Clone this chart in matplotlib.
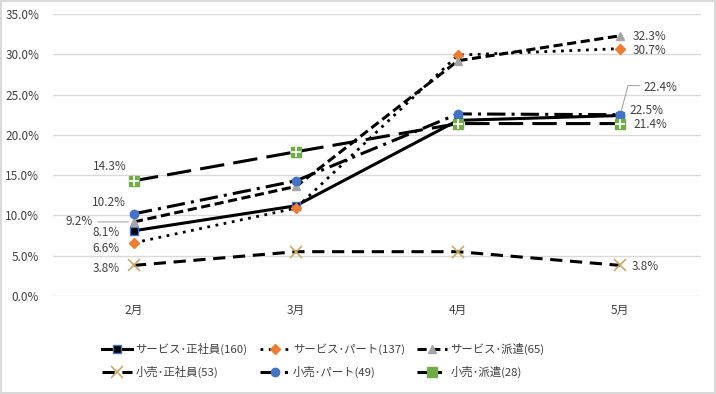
import matplotlib
matplotlib.use("Agg")
import matplotlib.pyplot as plt
from matplotlib.ticker import PercentFormatter

plt.rcParams['font.family'] = ['Noto Sans CJK JP', 'DejaVu Sans']

# ---- data ----
months = ["2月", "3月", "4月", "5月"]
series_names = ["サービス･正社員(160)", "サービス･パート(137)", "サービス･派遣(65)",
                "小売･正社員(53)", "小売･パート(49)", "小売･派遣(28)"]
svc_regular = [8.1, 11.2, 21.8, 22.4]
svc_part = [6.6, 10.9, 29.9, 30.7]
svc_dispatch = [9.2, 13.6, 29.2, 32.3]
ret_regular = [3.8, 5.5, 5.5, 3.8]
ret_part = [10.2, 14.3, 22.6, 22.5]
ret_dispatch = [14.3, 17.9, 21.4, 21.4]

# ---- styles ----
styles = [
    dict(ls="-", lw=2.2, marker="s", ms=5.5, mfc="black", mec="#4472C4", mew=1),
    dict(ls=(0, (1, 2)), lw=2.0, marker="D", ms=5, mfc="#ED7D31", mec="#ED7D31"),
    dict(ls=(0, (3, 1.5)), lw=2.2, marker="^", ms=6, mfc="#A5A5A5", mec="#A5A5A5"),
    dict(ls=(0, (4, 2.5)), lw=2.2, marker="x", ms=8, mfc="#F5E6C0", mec="#C9A86A", mew=1.2),
    dict(ls=(0, (6, 2, 1, 2)), lw=2.2, marker="o", ms=6, mfc="#4472C4", mec="#4472C4"),
    dict(ls=(0, (8, 3)), lw=2.2, marker="s", ms=6.5, mfc="#70AD47", mec="#70AD47"),
]
all_series = [svc_regular, svc_part, svc_dispatch, ret_regular, ret_part, ret_dispatch]

fig = plt.figure(figsize=(7.16, 3.94), dpi=100)
fig.patch.set_edgecolor("#D9D9D9")
fig.patch.set_linewidth(1.5)
ax = fig.add_axes([53 / 716, 98 / 394, 648 / 716, 282 / 394])

x = list(range(len(months)))
handles = []
for vals, name, st in zip(all_series, series_names, styles):
    h, = ax.plot(x, vals, color="black", label=name, zorder=3, **st)
    handles.append(h)
# white cross inside green squares
ax.plot(x, ret_dispatch, ls="none", marker="+", ms=6.5, mec="white", mew=1.2, zorder=4)

ax.set_xlim(-0.5, 3.5)
ax.set_ylim(0, 35)
ax.set_yticks([0, 5, 10, 15, 20, 25, 30, 35])
ax.yaxis.set_major_formatter(PercentFormatter(decimals=1))
ax.set_xticks(x)
ax.set_xticklabels(months)
ax.grid(axis="y", color="#D9D9D9", lw=1)
ax.set_axisbelow(True)
for s in ax.spines.values():
    s.set_visible(False)
ax.tick_params(length=0, labelsize=8.5, colors="#404040", pad=6)
ax.tick_params(axis="y", pad=10)

# ---- data labels (first and last month) ----
lab_kw = dict(textcoords="offset pixels", ha="center", va="center", fontsize=8.5, color="#404040")
first_offsets = [(-28, -2), (-28, -6), (-55, 0), (-28, -3), (-25, 11), (-24, 14)]
last_offsets = [(40, 28), (30, -2), (30, -1), (25, -1), (26, 4), (30, -1)]
for vals, fo, lo in zip(all_series, first_offsets, last_offsets):
    ax.annotate(f"{vals[0]:.1f}%", (0, vals[0]), xytext=fo, **lab_kw)
    ax.annotate(f"{vals[-1]:.1f}%", (3, vals[-1]), xytext=lo, **lab_kw)

# leader lines
ax.annotate("", (0, svc_dispatch[0]), xytext=(-36, 0), textcoords="offset pixels",
            arrowprops=dict(arrowstyle="-", color="#A6A6A6", lw=0.8, shrinkA=0, shrinkB=4))
ax.annotate("", (3, svc_regular[-1]), xytext=(20, 30), textcoords="offset pixels",
            arrowprops=dict(arrowstyle="-", color="#A6A6A6", lw=0.8, shrinkA=0, shrinkB=4,
                            connectionstyle="angle,angleA=0,angleB=75,rad=0"))

# legend filled row by row like the original (matplotlib fills column by column)
order = [0, 3, 1, 4, 2, 5]
fig.legend(handles=[handles[i] for i in order], loc="upper left",
           bbox_to_anchor=(92 / 716, 1 - 333 / 394),
           ncol=3, frameon=False, fontsize=8.2, handlelength=2.6, handletextpad=0.3,
           columnspacing=1.1, labelspacing=0.95, labelcolor="#404040")

fig.savefig("out.png", dpi=100)
